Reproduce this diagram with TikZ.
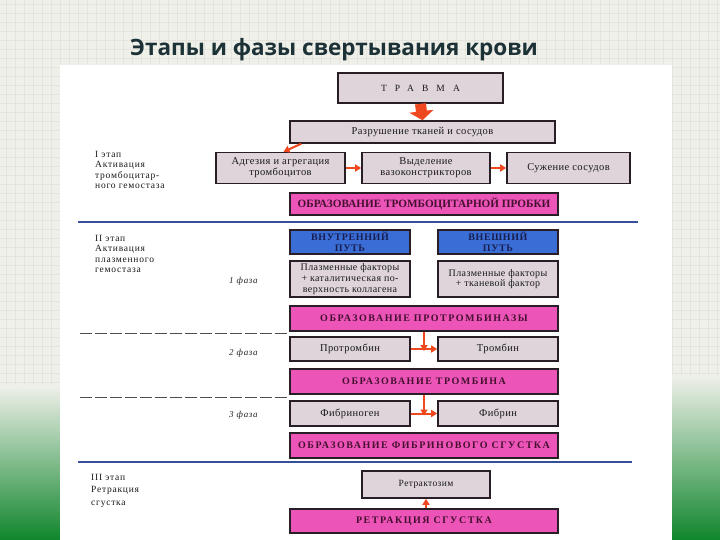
\documentclass[tikz,border=0pt]{standalone}
\usepackage{fontspec}
\setmainfont{Liberation Serif}
\newfontfamily\titlefont{Open Sans}
\newfontfamily\capsfont[LetterSpace=15]{Liberation Serif}
\newfontfamily\bluecapsfont[LetterSpace=6]{Liberation Serif}
\newfontfamily\widecapsfont[LetterSpace=85]{Liberation Serif}
\newfontfamily\boxfont[LetterSpace=4]{Liberation Serif}
\newfontfamily\labfont[LetterSpace=8]{Liberation Serif}
\usetikzlibrary{arrows.meta,calc}
\definecolor{bgc}{RGB}{240,240,235}
\definecolor{gridc}{RGB}{228,228,220}
\definecolor{greenc}{RGB}{16,134,44}
\definecolor{titlec}{RGB}{28,50,54}
\definecolor{grayfill}{RGB}{222,212,218}
\definecolor{borderc}{RGB}{40,30,38}
\definecolor{magc}{RGB}{236,84,184}
\definecolor{magtext}{RGB}{70,16,48}
\definecolor{bluefill}{RGB}{58,110,214}
\definecolor{bluetext}{RGB}{24,30,80}
\definecolor{arrc}{RGB}{240,72,30}
\definecolor{linec}{RGB}{52,80,154}
\tikzset{
  gbox/.style={draw=borderc, line width=1.6pt, fill=grayfill, inner sep=1pt,
    align=center, font=\fontsize{10.5}{11}\selectfont\boxfont, text=black!90},
  mbox/.style={gbox, fill=magc, text=magtext, font=\fontsize{10}{11}\selectfont\bfseries\capsfont},
  bbox/.style={gbox, fill=bluefill, text=bluetext, font=\fontsize{10}{10.5}\selectfont\bfseries\bluecapsfont},
  arr/.style={draw=arrc, line width=2pt, -{Triangle[width=7pt,length=6pt]}},
  lab/.style={anchor=north west, align=left, inner sep=0pt, font=\fontsize{9.5}{10.3}\selectfont\labfont, text=black!90},
  faza/.style={anchor=west, inner sep=0pt, font=\fontsize{9}{10}\selectfont\itshape\labfont, text=black!85},
  sep/.style={draw=linec, line width=1.8pt},
  dsep/.style={draw=black!70, line width=0.8pt, dash pattern=on 12pt off 3pt}
}
\begin{document}
\begin{tikzpicture}[x=1pt,y=-1pt]
\useasboundingbox (0,0) rectangle (720,540);
% background
\fill[bgc] (0,0) rectangle (720,540);
\foreach \g in {6,15,...,720} \draw[gridc, line width=0.4pt] (\g,0) -- (\g,540);
\foreach \g in {4,13,...,540} \draw[gridc, line width=0.4pt] (0,\g) -- (720,\g);
\shade[top color=bgc, bottom color=greenc] (0,385) rectangle (60,540);
\shade[top color=bgc, bottom color=greenc] (672,375) rectangle (720,540);
\fill[white] (60,65) rectangle (672,540);
% title
\node[anchor=base west, inner sep=0pt, text=titlec, font=\fontsize{22.5}{26}\selectfont\titlefont\bfseries] (title) at (130,56) {Этапы и фазы свертывания крови};
% boxes
\node[gbox, minimum width=165pt, minimum height=30pt, font=\fontsize{9.5}{10}\selectfont\widecapsfont] (travma) at (420.5,88) {ТРАВМА};
\node[gbox, minimum width=265pt, minimum height=22pt] (razr) at (422.5,132) {Разрушение тканей и сосудов};
\node[gbox, minimum width=129pt, minimum height=31pt] (adg) at (280.5,168) {Адгезия и агрегация\\тромбоцитов};
\node[gbox, minimum width=128pt, minimum height=31pt] (vyd) at (426,168) {Выделение\\вазоконстрикторов};
\node[gbox, minimum width=123pt, minimum height=31pt] (suzh) at (568.5,168) {Сужение сосудов};
\node[mbox, minimum width=268pt, minimum height=22pt, font=\fontsize{11.2}{12}\selectfont\bfseries] (probka) at (424,204) {ОБРАЗОВАНИЕ ТРОМБОЦИТАРНОЙ ПРОБКИ};
\node[bbox, minimum width=120pt, minimum height=24pt] (vnutr) at (350,242) {ВНУТРЕННИЙ\\ПУТЬ};
\node[bbox, minimum width=120pt, minimum height=24pt] (vnesh) at (498,242) {ВНЕШНИЙ\\ПУТЬ};
\node[gbox, minimum width=120pt, minimum height=36pt, font=\fontsize{10}{10.8}\selectfont\boxfont] (plaz1) at (350,279) {Плазменные факторы\\+ каталитическая по-\\верхность коллагена};
\node[gbox, minimum width=120pt, minimum height=36pt, font=\fontsize{10}{10.8}\selectfont\boxfont] (plaz2) at (498,279) {Плазменные факторы\\+ тканевой фактор};
\node[mbox, minimum width=268pt, minimum height=25pt] (prtrbz) at (424,318.5) {ОБРАЗОВАНИЕ ПРОТРОМБИНАЗЫ};
\node[gbox, minimum width=120pt, minimum height=24pt] (prtr) at (350,349) {Протромбин};
\node[gbox, minimum width=120pt, minimum height=24pt] (tr) at (498,349) {Тромбин};
\node[mbox, minimum width=268pt, minimum height=25pt] (obrtr) at (424,381.5) {ОБРАЗОВАНИЕ ТРОМБИНА};
\node[gbox, minimum width=120pt, minimum height=25pt] (fbg) at (350,413.5) {Фибриноген};
\node[gbox, minimum width=120pt, minimum height=25pt] (fb) at (498,413.5) {Фибрин};
\node[mbox, minimum width=268pt, minimum height=25pt] (sgust) at (424,445.5) {ОБРАЗОВАНИЕ ФИБРИНОВОГО СГУСТКА};
\node[gbox, minimum width=128pt, minimum height=27pt, font=\fontsize{9.5}{10}\selectfont\boxfont] (rtz) at (426,484.5) {Ретрактозим};
\node[mbox, minimum width=268pt, minimum height=24pt] (retr) at (424,521) {РЕТРАКЦИЯ СГУСТКА};
% arrows
\draw[draw=arrc, line width=11pt, -{Triangle[width=24pt,length=9pt]}] (travma.south) -- (razr.north);
\draw[arr] ([xshift=12pt]razr.south west) -- ([xshift=3pt]adg.north);
\draw[arr] (adg.east) -- (vyd.west);
\draw[arr] (vyd.east) -- (suzh.west);
\coordinate (j1) at ($(prtr.east)!0.5!(tr.west)$);
\coordinate (j2) at ($(fbg.east)!0.5!(fb.west)$);
\draw[arr] (prtrbz.south -| j1) -- ([yshift=-2pt]j1);
\draw[arr] (prtr.east) -- (tr.west);
\draw[arr] (obrtr.south -| j2) -- ([yshift=-2pt]j2);
\draw[arr] (fbg.east) -- (fb.west);
\draw[arr] (retr.north -| rtz.south) -- (rtz.south);
% separators
\coordinate (s1a) at (78,222); \coordinate (s1b) at (638,222);
\draw[sep] (s1a) -- (s1b);
\coordinate (s2a) at (78,462); \coordinate (s2b) at (632,462);
\draw[sep] (s2a) -- (s2b);
\coordinate (d1) at (80,333);
\draw[dsep] (d1) -- (d1 -| prtrbz.west);
\coordinate (d2) at (80,397);
\draw[dsep] (d2) -- (d2 -| obrtr.west);
% left labels
\node[lab] (l1) at (95,151) {I этап\\Активация\\тромбоцитар-\\ного гемостаза};
\node[lab] (l2) at (95,235) {II этап\\Активация\\плазменного\\гемостаза};
\node[lab, font=\fontsize{9.5}{12.5}\selectfont\labfont] (l3) at (91,474) {III этап\\Ретракция\\сгустка};
\node[faza] (f1) at (229,281) {1 фаза};
\node[faza] (f2) at (229,353) {2 фаза};
\node[faza] (f3) at (229,415) {3 фаза};
\end{tikzpicture}
\end{document}
